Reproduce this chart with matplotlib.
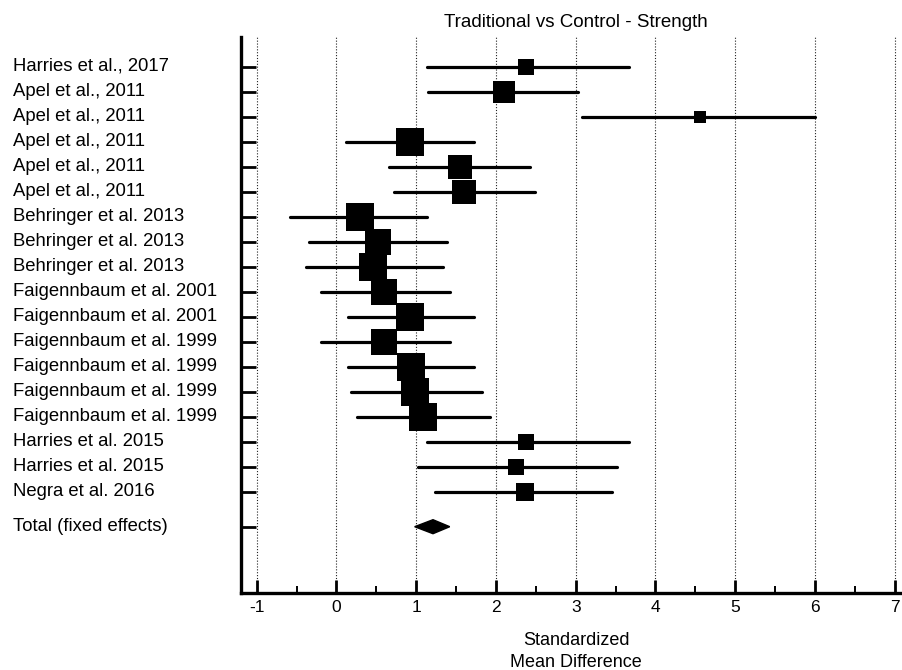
import matplotlib
matplotlib.use("Agg")
import matplotlib.pyplot as plt
from matplotlib.ticker import MultipleLocator
from matplotlib.transforms import blended_transform_factory
import numpy as np

plt.rcParams['font.family'] = ['Liberation Sans', 'DejaVu Sans']

studies = [
    "Harries et al., 2017",
    "Apel et al., 2011",
    "Apel et al., 2011",
    "Apel et al., 2011",
    "Apel et al., 2011",
    "Apel et al., 2011",
    "Behringer et al. 2013",
    "Behringer et al. 2013",
    "Behringer et al. 2013",
    "Faigennbaum et al. 2001",
    "Faigennbaum et al. 2001",
    "Faigennbaum et al. 1999",
    "Faigennbaum et al. 1999",
    "Faigennbaum et al. 1999",
    "Faigennbaum et al. 1999",
    "Harries et al. 2015",
    "Harries et al. 2015",
    "Negra et al. 2016",
]
smd = [2.38, 2.10, 4.56, 0.92, 1.55, 1.60, 0.29, 0.52, 0.46, 0.59, 0.92,
       0.59, 0.93, 0.98, 1.08, 2.38, 2.25, 2.36]
ci_low = [1.13, 1.15, 3.08, 0.12, 0.66, 0.72, -0.58, -0.34, -0.38, -0.19, 0.14,
          -0.19, 0.14, 0.18, 0.26, 1.13, 1.02, 1.24]
ci_high = [3.67, 3.03, 6.00, 1.73, 2.43, 2.49, 1.14, 1.39, 1.34, 1.42, 1.73,
           1.42, 1.73, 1.82, 1.92, 3.67, 3.52, 3.46]
weights = [2.2, 4.7, 1.6, 7.5, 5.8, 5.8, 7.3, 7.0, 7.3, 7.0, 7.3,
           7.0, 7.3, 7.3, 7.3, 2.3, 2.3, 3.3]

total_label = "Total (fixed effects)"
total_est = 1.21
total_low = 0.98
total_high = 1.42

W, H = 903, 670
fig = plt.figure(figsize=(W / 100, H / 100), dpi=100)
ax_l, ax_r, ax_b, ax_t = 241, 902, 593, 37
ax = fig.add_axes([ax_l / W, 1 - ax_b / H, (ax_r - ax_l) / W, (ax_b - ax_t) / H])

px_per_unit = 79.75
x0_px = 336.5
ax.set_xlim((ax_l - x0_px) / px_per_unit, (ax_r - x0_px) / px_per_unit)

n = len(studies)
rows = np.arange(1, n + 1)
total_row = n + 1.4
row_px = 25.0
row1_px = 66.7
ax.set_ylim(1 + (ax_b - row1_px) / row_px, 1 + (ax_t - row1_px) / row_px)

# dotted reference lines at each integer effect size
for v in range(-1, 8):
    ax.axvline(v, color="#222222", lw=0.8, ls=(0, (1, 1.6)), zorder=0)

# confidence intervals and weighted squares
for y, m, lo, hi, w in zip(rows, smd, ci_low, ci_high, weights):
    ax.plot([lo, hi], [y, y], color="black", lw=2.3, solid_capstyle="round", zorder=2)
    side_px = 10.2 * np.sqrt(w)
    ax.plot([m], [y], marker="s", color="black", markersize=side_px * 0.72,
            markeredgewidth=0, zorder=3)

# pooled estimate diamond
dh = 0.28
ax.fill([total_low, total_est, total_high, total_est],
        [total_row, total_row - dh, total_row, total_row + dh],
        color="black", zorder=3)

ax.set_yticks(list(rows) + [total_row])
ax.set_yticklabels([])
ax.tick_params(axis="y", direction="in", length=10.8, width=2.0, left=True)

ax.xaxis.set_major_locator(MultipleLocator(1))
ax.xaxis.set_minor_locator(MultipleLocator(0.5))
ax.tick_params(axis="x", which="major", direction="in", length=9.4, width=2.0,
               labelsize=12.5, pad=5)
ax.tick_params(axis="x", which="minor", direction="in", length=5, width=1.4)
ax.set_xticks(range(-1, 8))
ax.set_xticklabels([str(v) for v in range(-1, 8)])

for side in ("top", "right"):
    ax.spines[side].set_visible(False)
for side in ("left", "bottom"):
    ax.spines[side].set_linewidth(2.4)

# study labels in the left margin
lab_tr = blended_transform_factory(fig.transFigure, ax.transData)
base_off = 4.0 / row_px
for y, name in zip(rows, studies):
    ax.text(13 / W, y + base_off, name, transform=lab_tr,
            fontsize=13.3, va="baseline", ha="left")
ax.text(13 / W, total_row + base_off, total_label, transform=lab_tr,
        fontsize=13.3, va="baseline", ha="left")

fig.text(575.5 / W, 1 - 27 / H, "Traditional vs Control - Strength",
         fontsize=13.5, ha="center", va="baseline")
fig.text(576 / W, 1 - 645 / H, "Standardized", fontsize=13, ha="center", va="baseline")
fig.text(576 / W, 1 - 667 / H, "Mean Difference", fontsize=13, ha="center", va="baseline")

fig.savefig("out.png", dpi=100)
